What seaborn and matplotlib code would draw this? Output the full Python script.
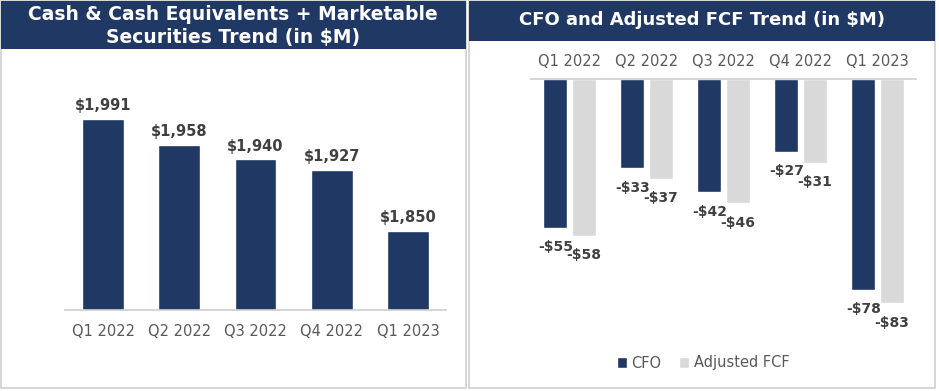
import pandas as pd
import matplotlib
matplotlib.use('Agg')
import matplotlib.pyplot as plt
import seaborn as sns
from matplotlib.patches import Rectangle

quarters = ['Q1 2022', 'Q2 2022', 'Q3 2022', 'Q4 2022', 'Q1 2023']
cash = [1991, 1958, 1940, 1927, 1850]
cfo = [-55, -33, -42, -27, -78]
adj_fcf = [-58, -37, -46, -31, -83]

NAVY = '#203864'
LIGHT = '#d9d9d9'
TICK = '#595959'
LABEL = '#404040'

sns.set_theme(style='white')
plt.rcParams['font.family'] = ['DejaVu Sans']

W, H = 939, 391
fig = plt.figure(figsize=(W / 100, H / 100), dpi=100)
fig.patch.set_facecolor('white')


def px(x0, y0, x1, y1):
    # pixel box (top-left origin) -> figure fraction rect
    return [x0 / W, 1 - y1 / H, (x1 - x0) / W, (y1 - y0) / H]


# panel frames and title banners (drawn behind the axes)
for (x0, x1, bh) in [(1, 466, 49), (469, 935, 41)]:
    r = px(x0, 1, x1, 388)
    fig.patches.append(Rectangle((r[0], r[1]), r[2], r[3], transform=fig.transFigure,
                                 facecolor='none', edgecolor='#d0d0d0', lw=1.2, zorder=-2))
    b = px(x0, 1, x1, bh)
    fig.patches.append(Rectangle((b[0], b[1]), b[2], b[3], transform=fig.transFigure,
                                 facecolor=NAVY, edgecolor='none', zorder=-1))

fig.text(233 / W, 1 - 26 / H, 'Cash & Cash Equivalents + Marketable\nSecurities Trend (in $M)',
         ha='center', va='center', color='white', fontsize=13.5, fontweight='bold',
         linespacing=1.3)
fig.text(702 / W, 1 - 20 / H, 'CFO and Adjusted FCF Trend (in $M)',
         ha='center', va='center', color='white', fontsize=13, fontweight='bold')

# left chart
df_cash = pd.DataFrame({'quarter': quarters, 'cash': cash})
ax1 = fig.add_axes(px(65, 72, 446, 310))
sns.barplot(data=df_cash, x='quarter', y='cash', color=NAVY, width=0.55,
            saturation=1, ax=ax1)
ax1.set_ylim(1750, 2050)
ax1.set_xlim(-0.5, 4.5)
ax1.set_xlabel('')
ax1.set_ylabel('')
ax1.set_yticks([])
ax1.set_facecolor('none')
for s in ['top', 'left', 'right']:
    ax1.spines[s].set_visible(False)
ax1.spines['bottom'].set_color('#d0d0d0')
ax1.tick_params(axis='x', length=0, pad=10, labelsize=10.5, labelcolor=TICK)
for i, v in enumerate(cash):
    ax1.annotate(f'${v:,}', (i, v), xytext=(0, 4), textcoords='offset points',
                 ha='center', va='bottom', fontsize=10.5, fontweight='bold', color=LABEL)

# right chart
df_cf = pd.DataFrame({
    'quarter': quarters * 2,
    'value': cfo + adj_fcf,
    'series': ['CFO'] * 5 + ['Adjusted FCF'] * 5,
})
ax2 = fig.add_axes(px(531, 79, 916, 349))
sns.barplot(data=df_cf, x='quarter', y='value', hue='series',
            palette={'CFO': NAVY, 'Adjusted FCF': LIGHT}, width=0.74, gap=0.16,
            saturation=1, ax=ax2)
ax2.set_ylim(-100, 0)
ax2.set_xlim(-0.5, 4.5)
ax2.set_xlabel('')
ax2.set_ylabel('')
ax2.set_yticks([])
ax2.set_facecolor('none')
for s in ['bottom', 'left', 'right']:
    ax2.spines[s].set_visible(False)
ax2.spines['top'].set_color('#d0d0d0')
ax2.xaxis.tick_top()
ax2.tick_params(axis='x', length=0, pad=7, labelsize=10.5, labelcolor=TICK,
                top=True, bottom=False, labeltop=True, labelbottom=False)
for i in range(5):
    for off, v in [(-0.185, cfo[i]), (0.185, adj_fcf[i])]:
        ax2.annotate(f'-${abs(v)}', (i + off, v), xytext=(0, -9), textcoords='offset points',
                     ha='center', va='top', fontsize=10, fontweight='bold', color=LABEL)

handles, labels = ax2.get_legend_handles_labels()
ax2.legend(handles, labels, loc='center', bbox_to_anchor=(703 / W, 1 - 363 / H),
           bbox_transform=fig.transFigure, ncol=2, frameon=False, fontsize=10.5,
           handlelength=0.7, handleheight=0.7, handletextpad=0.3, columnspacing=1.2,
           labelcolor=TICK)

fig.savefig('out.png', dpi=100)
